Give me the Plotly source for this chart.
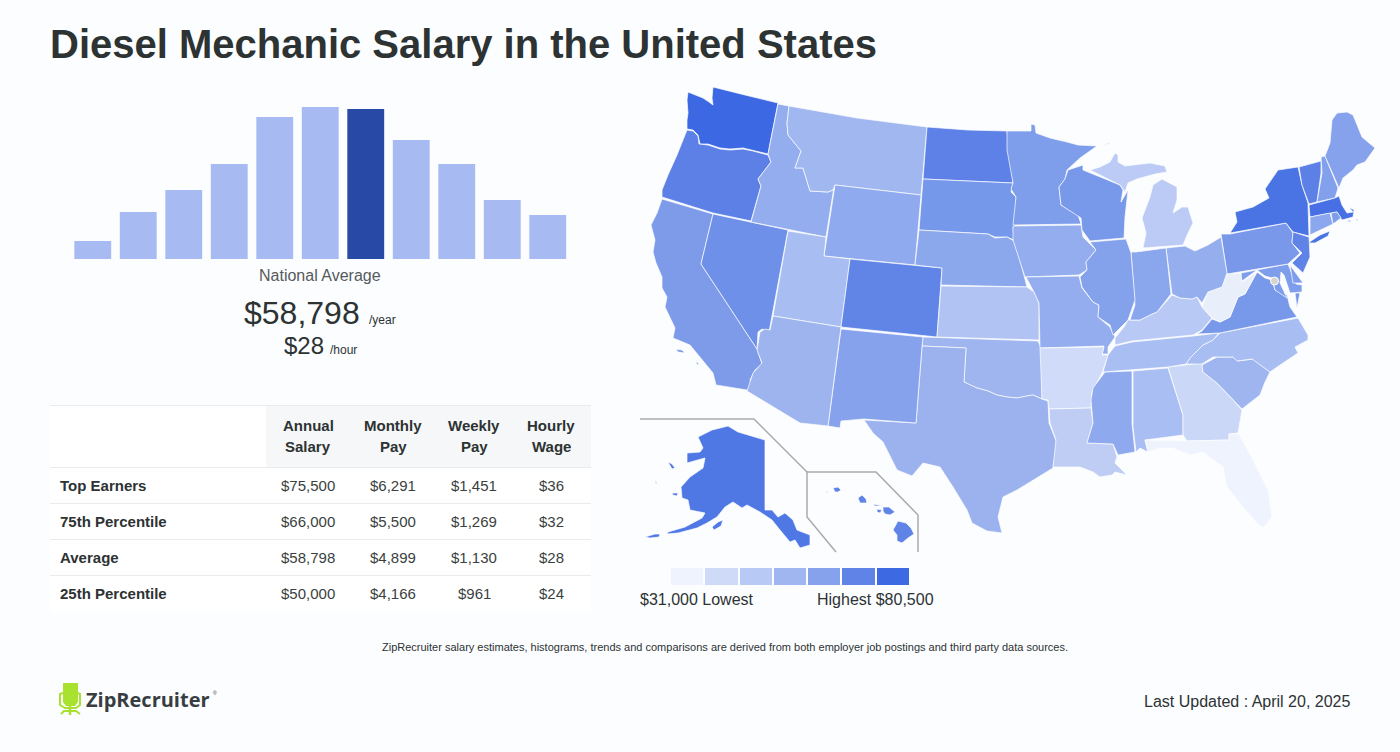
import plotly.graph_objects as go

# histogram of salaries, relative heights, index 6 is the national average bin
HIST_VALUES = [18, 47, 69, 95, 142, 152, 150, 119, 95, 59, 44]
HIST_HIGHLIGHT = 6

ROW_LABELS = ["Top Earners", "75th Percentile", "Average", "25th Percentile"]
ANNUAL  = ["$75,500", "$66,000", "$58,798", "$50,000"]
MONTHLY = ["$6,291", "$5,500", "$4,899", "$4,166"]
WEEKLY  = ["$1,451", "$1,269", "$1,130", "$961"]
HOURLY  = ["$36", "$32", "$28", "$24"]
HEADER_TOP = ["Annual", "Monthly", "Weekly", "Hourly"]
HEADER_BOT = ["Salary", "Pay", "Pay", "Wage"]

LEGEND_COLORS = ["#eff3fd", "#cfdaf8", "#b9c9f5", "#a0b6f0", "#87a2ec", "#5f83e6", "#3d69e3"]

STATE_COLORS = {
    "WA": "#3c68e4", "OR": "#5c80e6", "CA": "#7d9be9", "NV": "#6f90e8", "ID": "#93adee", "MT": "#a0b7f0",
    "WY": "#8faaee", "UT": "#a8bdf2", "CO": "#6085e6", "AZ": "#9db4ef", "NM": "#86a2ec", "ND": "#5d81e6",
    "SD": "#7598ea", "NE": "#8ca8ed", "KS": "#b0c3f3", "OK": "#9fb5f0", "TX": "#9bb2ef", "MN": "#7e9deb",
    "IA": "#93adef", "MO": "#93adef", "AR": "#cfdbf8", "LA": "#bfcdf5", "WI": "#7898ea", "IL": "#84a1ec",
    "MI": "#bccbf5", "IN": "#8aa6ed", "OH": "#94aeee", "KY": "#b9c9f5", "TN": "#a9bef2", "MS": "#8ea9ee",
    "AL": "#a9bef2", "GA": "#cad7f7", "FL": "#eff3fd", "SC": "#9fb5f0", "NC": "#a8bdf2", "VA": "#7898ea",
    "WV": "#e9eefb", "PA": "#7998ea", "NY": "#4a73e4", "NJ": "#5f83e6", "DE": "#7f9deb", "MD": "#7e9deb",
    "CT": "#8ba7ed", "RI": "#7e9deb", "MA": "#4870e4", "VT": "#5c80e6", "NH": "#82a0ec", "ME": "#87a2ec",
    "AK": "#4f78e5", "HI": "#5f83e6",
}

# state outlines, one list per piece of land
STATE_OUTLINES = {
    "WA": [[(688,92),(695,95),(703,98),(709,102),(713,105),(712,98),(713,87),(745,95),(778,103),(768,154),(753,150),(743,148),(730,149),(720,148),(708,144),(700,144),(698,135),(693,130),(687,129),(687,120),(688,113),(687,100)]],
    "OR": [[(687,130),(693,131),(698,136),(699,144),(708,145),(720,149),(730,150),(743,149),(753,151),(768,155),(771,162),(765,170),(758,179),(761,186),(751,221),(713,213),(662,197),(662,190),(668,175),(677,155),(682,143)]],
    "CA": [[(662,199),(713,214),(701,264),(757,349),(762,364),(755,370),(750,380),(752,387),(747,390),(716,385),(713,373),(700,357),(690,345),(673,338),(675,328),(665,307),(667,297),(662,288),(662,277),(656,263),(653,252),(655,240),(651,225),(657,213)],
           [(676,349),(682,350),(685,353),(678,352)], [(696,361),(699,364),(697,365)]],
    "NV": [[(713,214),(788,230),(769,332),(762,329),(758,332),(757,349),(701,264)]],
    "ID": [[(778,104),(789,106),(787,123),(788,135),(801,151),(795,168),(803,168),(810,191),(828,192),(833,190),(834,187),(826,237),(751,222),(761,186),(758,179),(771,162),(768,154)]],
    "MT": [[(789,106),(857,118),(927,127),(921,195),(835,185),(833,190),(828,192),(810,191),(803,168),(795,168),(801,151),(788,135),(787,123)]],
    "WY": [[(835,185),(921,195),(915,265),(824,256)]],
    "UT": [[(788,231),(826,237),(824,256),(850,259),(841,327),(773,316)]],
    "CO": [[(850,259),(942,268),(937,337),(841,327)]],
    "ND": [[(927,127),(968,130),(1007,131),(1013,183),(923,179)]],
    "SD": [[(923,179),(1013,183),(1011,192),(1016,197),(1016,225),(1013,227),(1014,240),(1007,237),(995,237),(988,234),(919,230)]],
    "NE": [[(919,230),(988,234),(995,238),(1007,237),(1014,241),(1020,260),(1027,287),(941,285),(942,268),(915,265)]],
    "KS": [[(941,286),(1027,287),(1034,292),(1039,303),(1039,340),(937,337)]],
    "OK": [[(923,337),(1038,341),(1041,348),(1042,370),(1042,399),(1033,395),(1027,396),(1017,398),(1007,397),(997,395),(988,391),(977,388),(970,385),(964,382),(966,348),(922,346)]],
    "TX": [[(922,346),(966,348),(964,382),(970,385),(977,388),(988,391),(997,395),(1007,397),(1017,398),(1027,396),(1033,395),(1042,399),(1048,401),(1049,423),(1057,443),(1053,468),(1033,480),(1017,490),(1003,497),(998,517),(1002,533),(987,531),(972,523),(967,510),(953,487),(940,467),(923,463),(912,476),(897,470),(888,453),(883,442),(873,433),(864,420),(916,423)]],
    "NM": [[(841,329),(923,337),(922,346),(916,423),(864,419),(841,421),(840,428),(828,426)]],
    "AZ": [[(841,327),(828,426),(800,423),(747,391),(750,382),(753,373),(762,363),(757,350),(760,332),(765,329),(770,330),(773,316)]],
    "MN": [[(1007,131),(1031,131),(1031,124),(1035,125),(1036,133),(1050,138),(1067,142),(1078,145),(1097,146),(1080,158),(1067,170),(1065,179),(1059,187),(1061,205),(1078,215),(1081,224),(1013,225),(1016,197),(1011,189),(1013,183),(1007,150)]],
    "IA": [[(1013,226),(1081,225),(1083,237),(1096,250),(1086,262),(1087,270),(1079,275),(1025,277),(1013,240)]],
    "MO": [[(1026,277),(1079,276),(1082,288),(1093,302),(1099,305),(1098,317),(1110,327),(1115,337),(1108,347),(1108,354),(1102,354),(1104,346),(1040,348),(1039,303),(1034,292)]],
    "AR": [[(1040,348),(1104,347),(1102,355),(1108,355),(1102,373),(1095,387),(1092,392),(1091,408),(1049,409),(1048,400),(1042,399)]],
    "LA": [[(1049,409),(1091,408),(1093,423),(1087,443),(1113,444),(1117,457),(1115,463),(1127,475),(1115,472),(1112,475),(1100,477),(1093,472),(1080,467),(1053,467),(1056,440),(1050,423)]],
    "MS": [[(1105,372),(1132,371),(1132,423),(1135,452),(1118,455),(1113,444),(1087,443),(1093,423),(1091,400),(1093,388)]],
    "AL": [[(1133,371),(1168,368),(1183,415),(1183,435),(1145,440),(1148,452),(1140,448),(1136,452),(1133,427)]],
    "GA": [[(1168,367),(1202,363),(1203,372),(1217,383),(1233,400),(1242,410),(1238,433),(1229,434),(1229,440),(1187,441),(1183,435),(1183,415)]],
    "FL": [[(1145,440),(1187,441),(1229,440),(1229,434),(1239,434),(1253,460),(1268,490),(1272,517),(1263,528),(1257,523),(1243,507),(1227,487),(1223,467),(1203,452),(1190,455),(1173,448),(1160,448),(1148,452)]],
    "SC": [[(1202,365),(1217,357),(1233,357),(1238,361),(1253,359),(1270,372),(1265,382),(1260,395),(1242,409),(1233,400),(1217,383),(1203,372)]],
    "NC": [[(1220,333),(1298,318),(1308,335),(1308,340),(1295,347),(1298,353),(1280,365),(1270,372),(1252,359),(1237,361),(1233,357),(1213,357),(1202,364),(1186,364),(1190,358),(1203,345),(1213,340)]],
    "TN": [[(1115,346),(1132,342),(1193,336),(1219,333),(1213,340),(1203,345),(1190,358),(1186,364),(1168,367),(1103,372),(1108,355)]],
    "KY": [[(1115,338),(1124,327),(1128,320),(1140,320),(1152,314),(1157,312),(1172,295),(1180,298),(1192,299),(1197,297),(1202,307),(1212,318),(1202,330),(1193,335),(1132,341),(1115,345)]],
    "VA": [[(1197,334),(1202,331),(1212,319),(1220,322),(1230,317),(1238,297),(1245,294),(1257,272),(1265,278),(1272,280),(1275,290),(1287,295),(1290,307),(1297,317),(1220,333)],
           [(1295,293),(1300,293),(1297,308)]],
    "WV": [[(1202,307),(1208,292),(1222,287),(1227,274),(1242,273),(1242,282),(1257,272),(1245,294),(1238,297),(1230,317),(1220,322),(1212,318)]],
    "MD": [[(1241,273),(1288,264),(1296,284),(1302,285),(1302,292),(1290,293),(1284,275),(1281,272),(1280,283),(1287,298),(1275,290),(1272,278),(1265,276),(1257,270),(1242,281)]],
    "DE": [[(1290,265),(1295,272),(1303,283),(1293,283)]],
    "PA": [[(1221,234),(1230,234),(1286,223),(1293,233),(1292,243),(1300,253),(1288,264),(1227,274)]],
    "OH": [[(1166,248),(1185,246),(1195,251),(1208,245),(1221,237),(1227,273),(1222,287),(1208,292),(1202,303),(1197,297),(1192,299),(1180,298),(1172,294)]],
    "IN": [[(1131,252),(1136,252),(1166,248),(1171,294),(1157,312),(1152,314),(1140,320),(1130,320),(1135,305)]],
    "IL": [[(1090,242),(1126,239),(1131,253),(1135,300),(1128,320),(1113,335),(1110,325),(1098,317),(1099,305),(1093,302),(1082,287),(1080,277),(1087,270),(1086,262),(1096,250)]],
    "WI": [[(1068,170),(1083,165),(1083,170),(1120,185),(1123,190),(1121,202),(1128,190),(1125,217),(1124,238),(1090,241),(1082,230),(1081,218),(1061,205),(1059,187),(1065,179)]],
    "MI": [[(1143,248),(1183,245),(1188,233),(1193,223),(1188,207),(1182,207),(1173,213),(1177,200),(1177,187),(1162,179),(1153,185),(1150,197),(1142,218),(1146,233)],
           [(1090,170),(1100,167),(1110,162),(1115,153),(1118,155),(1118,162),(1125,166),(1150,163),(1165,166),(1167,172),(1155,174),(1137,179),(1128,183),(1125,192),(1120,185)],
           [(1103,146),(1110,142),(1109,144)]],
    "NY": [[(1230,233),(1237,222),(1235,212),(1253,207),(1269,198),(1265,189),(1278,170),(1298,167),(1302,185),(1308,203),(1309,236),(1293,232),(1286,223)],
           [(1308,243),(1320,235),(1330,231),(1328,236),(1315,243)]],
    "VT": [[(1299,167),(1321,161),(1321,173),(1317,202),(1309,204),(1302,185)]],
    "NH": [[(1321,157),(1325,156),(1338,188),(1335,198),(1317,202),(1322,173)]],
    "ME": [[(1325,156),(1330,143),(1332,120),(1337,113),(1347,112),(1353,115),(1362,137),(1375,148),(1365,162),(1357,165),(1353,170),(1343,178),(1339,188)]],
    "MA": [[(1309,205),(1335,198),(1339,196),(1342,205),(1347,213),(1353,212),(1349,207),(1354,210),(1353,217),(1342,220),(1337,212),(1310,217)],
           [(1347,221),(1351,220),(1350,222)], [(1356,219),(1358,219),(1357,221)]],
    "CT": [[(1310,217),(1330,213),(1333,224),(1310,235)]],
    "RI": [[(1331,213),(1337,212),(1341,218),(1333,224)]],
    "NJ": [[(1293,232),(1309,237),(1310,257),(1303,273),(1292,263),(1302,253),(1292,243)]],
    "AK": [[(698,437),(712,430),(728,426),(738,432),(765,440),(765,510),(772,510),(778,517),(785,513),(793,520),(797,530),(810,535),(810,545),(800,548),(795,540),(790,542),(780,530),(772,520),(760,512),(747,505),(742,508),(733,502),(725,507),(717,517),(707,523),(697,528),(678,533),(667,534),(668,532),(685,527),(702,518),(705,513),(690,510),(688,500),(682,498),(681,487),(690,477),(703,468),(705,458),(687,463),(687,453),(700,452),(703,448)],
           [(712,527),(718,522),(723,520),(721,526),(714,530)], [(645,537),(655,534),(660,534),(659,537),(650,538)],
           [(668,462),(672,464),(675,468),(672,469)], [(672,493),(678,493),(677,496),(673,495)], [(655,480),(657,483),(656,484)]],
    "HI": [[(898,521),(906,523),(911,528),(914,534),(908,538),(902,543),(897,541),(897,535),(893,530)], [(883,507),(889,507),(895,512),(890,515),(885,514),(883,511)],
           [(873,504),(883,506),(875,506)], [(877,509),(882,510),(880,513),(877,512)], [(858,498),(862,495),(866,499),(867,503),(860,503)],
           [(833,488),(838,487),(841,490),(838,492),(835,492)], [(826,492),(828,490),(827,493)]],
}

INSET_ALASKA = [(640,419),(754,419),(807,472),(807,517),(836,552)]
INSET_HAWAII = [(807,472),(876,472),(918,515),(918,552)]

TEXT = "#2d3233"
BODY = "#3a3f40"
BG   = "#fbfdff"
FONT = "Liberation Sans"

fig = go.Figure()

# map + everything else sits on a full page axis
for state, pieces in STATE_OUTLINES.items():
    for piece in pieces:
        xs = [p[0] for p in piece] + [piece[0][0]]
        ys = [p[1] for p in piece] + [piece[0][1]]
        fig.add_trace(go.Scatter(x=xs, y=ys, mode="lines", fill="toself", fillcolor=STATE_COLORS[state],
                                 line=dict(color="#fdfeff", width=0.7), hoverinfo="skip", xaxis="x", yaxis="y"))

# DC dot
fig.add_trace(go.Scatter(x=[1274.5], y=[281], mode="markers", hoverinfo="skip",
                         marker=dict(size=8, color="#d6d6d0", line=dict(color="#ffffff", width=1))))

for inset in [INSET_ALASKA, INSET_HAWAII]:
    fig.add_trace(go.Scatter(x=[p[0] for p in inset], y=[p[1] for p in inset], mode="lines",
                             line=dict(color="#aaaaaa", width=1.5), hoverinfo="skip"))

# histogram
fig.add_trace(go.Bar(x=list(range(len(HIST_VALUES))), y=HIST_VALUES, width=0.81,
                     marker=dict(color=["#2849a6" if i == HIST_HIGHLIGHT else "#a8baf2" for i in range(len(HIST_VALUES))], line_width=0),
                     hoverinfo="skip", xaxis="x2", yaxis="y2"))

# table background and rules
shapes = [
    dict(type="rect", xref="x", yref="y", x0=50, x1=591, y0=405, y1=612, fillcolor="#ffffff", line_width=0, layer="below"),
    dict(type="rect", xref="x", yref="y", x0=266, x1=591, y0=405, y1=467, fillcolor="#f5f7f8", line_width=0, layer="below"),
]
for yy in [405.5, 467.5, 503.5, 539.5, 575.5]:
    shapes.append(dict(type="line", xref="x", yref="y", x0=50, x1=591, y0=yy, y1=yy, line=dict(color="#e9ebec", width=1)))

# legend swatches
swatch_x = [(671,703), (705,738), (740,772), (774,806), (808,840), (842,875), (877,909)]
for (x0, x1), c in zip(swatch_x, LEGEND_COLORS):
    shapes.append(dict(type="rect", xref="x", yref="y", x0=x0, x1=x1, y0=568, y1=585, fillcolor=c, line_width=0))

# logo chair
LOGO = "#a8e22e"
shapes.append(dict(type="path", xref="x", yref="y", fillcolor=LOGO, line_width=0,
                   path="M63,683 L78,683 L78,702 L75,706 L66,706 L63,702 Z"))
shapes.append(dict(type="path", xref="x", yref="y", fillcolor="rgba(0,0,0,0)", line=dict(color=LOGO, width=2),
                   path="M63,693 L60,694 L60,705 L65,708 L76,708 L80,705 L80,694 L78,693"))
shapes.append(dict(type="line", xref="x", yref="y", x0=70, x1=70, y0=706, y1=715, line=dict(color=LOGO, width=2.5)))
shapes.append(dict(type="path", xref="x", yref="y", fillcolor="rgba(0,0,0,0)", line=dict(color=LOGO, width=2),
                   path="M61,714 L64,711 L76,711 L80,714"))


def label(x, y, text, size, color=TEXT, anchor="center", family=FONT):
    return dict(x=x, y=y, xref="x", yref="y", text=text, showarrow=False, xanchor=anchor, yanchor="middle",
                font=dict(family=family, size=size, color=color), borderpad=0, borderwidth=0)


annotations = [
    label(50, 44, "<b>Diesel Mechanic Salary in the United States</b>", 40, anchor="left"),
    label(320, 275, "National Average", 16, color="#555a5c"),
    label(360, 313, "$58,798", 32, anchor="right"),
    label(369, 320, "/year", 12, anchor="left"),
    label(323.5, 345, "$28", 24, anchor="right"),
    label(330, 350, "/hour", 12, anchor="left"),
    label(640, 599, "$31,000 Lowest", 16, anchor="left"),
    label(934, 599, "Highest $80,500", 16, anchor="right"),
    label(725, 647, "ZipRecruiter salary estimates, histograms, trends and comparisons are derived from both employer job postings and third party data sources.", 11),
    label(86, 699, "<b>ZipRecruiter</b>", 20, color="#383d42", anchor="left", family="Open Sans"),
    label(213, 693, "®", 5, color="#383d42", anchor="left"),
    label(1350, 701, "Last Updated : April 20, 2025", 16, anchor="right"),
]

# table text
col_centers = [308, 393, 474, 551]
row_centers = [485, 521, 557, 593]
for cx, top, bot in zip(col_centers, HEADER_TOP, HEADER_BOT):
    annotations.append(label(cx, 425, "<b>%s</b>" % top, 15))
    annotations.append(label(cx, 446, "<b>%s</b>" % bot, 15))
for ry, name in zip(row_centers, ROW_LABELS):
    annotations.append(label(60, ry, "<b>%s</b>" % name, 15, anchor="left"))
for cx, col in zip(col_centers, [ANNUAL, MONTHLY, WEEKLY, HOURLY]):
    for ry, val in zip(row_centers, col):
        annotations.append(label(cx, ry, val, 15, color=BODY))

fig.update_layout(
    width=1400, height=752, margin=dict(l=0, r=0, t=0, b=0),
    paper_bgcolor=BG, plot_bgcolor="rgba(0,0,0,0)", showlegend=False,
    xaxis=dict(range=[0, 1400], domain=[0, 1], visible=False, fixedrange=True),
    yaxis=dict(range=[752, 0], domain=[0, 1], visible=False, fixedrange=True),
    xaxis2=dict(range=[-0.5, 10.5], domain=[70/1400, 570.5/1400], visible=False, anchor="y2"),
    yaxis2=dict(range=[0, 152], domain=[1-259/752, 1-107/752], visible=False, anchor="x2"),
    shapes=shapes, annotations=annotations,
)

fig.write_html("out.html", config={"displayModeBar": False},
               post_script="document.body.style.margin='0';document.body.style.overflow='hidden';")
